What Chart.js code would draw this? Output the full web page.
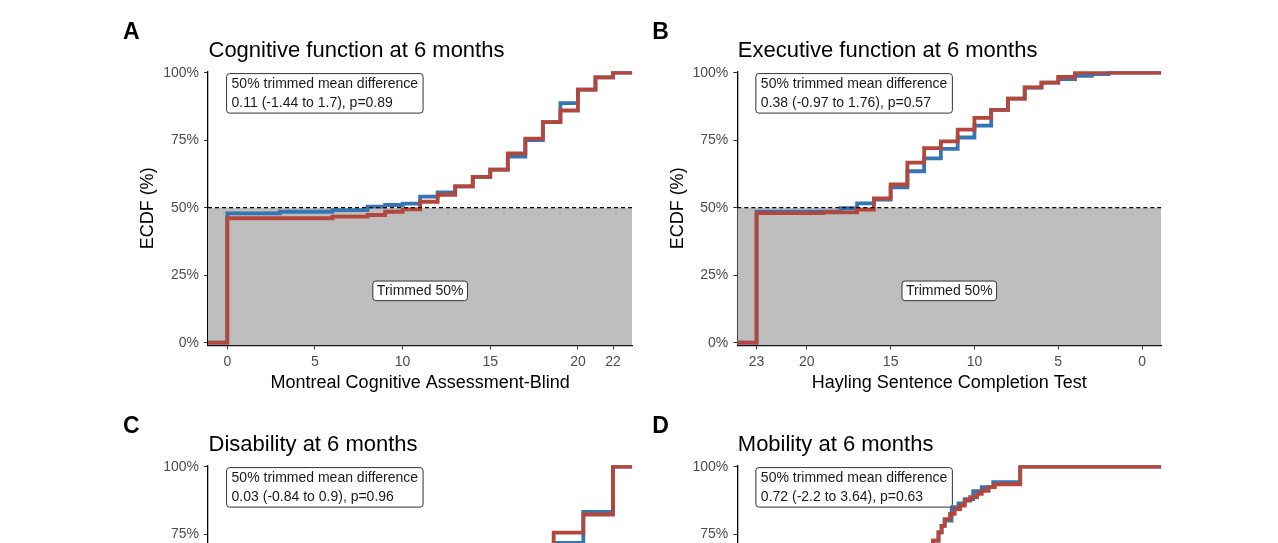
<!DOCTYPE html>
<html>
<head>
<meta charset="utf-8">
<script src="https://cdn.jsdelivr.net/npm/chart.js@4.4.1/dist/chart.umd.min.js"></script>
<style>
html, body { margin: 0; padding: 0; background: #fff; overflow: hidden; width: 1278px; height: 543px; }
canvas { position: absolute; }
</style>
</head>
<body>
<canvas id="cA" width="540" height="394" style="left:100px;top:0px"></canvas>
<canvas id="cB" width="540" height="394" style="left:629px;top:0px"></canvas>
<canvas id="cC" width="540" height="394" style="left:100px;top:394px"></canvas>
<canvas id="cD" width="540" height="394" style="left:629px;top:394px"></canvas>
<script>
// ECDF steps, % of patients at or below each score (blue / red arm)
const aBlueX = [0, 3, 6, 8, 9, 10, 11, 12, 13, 14, 15, 16, 17, 18, 19, 20, 21, 22];
const aBlueY = [47.9, 48.5, 49.1, 50.4, 51.0, 51.5, 54.1, 55.7, 57.9, 61.4, 64.1, 68.9, 75.0, 81.7, 88.7, 93.7, 98.3, 100];
const aRedX = [0, 6, 8, 9, 10, 11, 12, 13, 14, 15, 16, 17, 18, 19, 20, 21, 22];
const aRedY = [46.1, 46.7, 47.3, 48.5, 49.4, 52.2, 54.8, 57.9, 61.4, 64.1, 70.1, 75.6, 81.7, 86.0, 93.7, 98.3, 100];

// Hayling is plotted reversed (23 = worst)
const bBlueX = [23, 18, 17, 16, 15, 14, 13, 12, 11, 10, 9, 8, 7, 6, 5, 4, 3, 2];
const bBlueY = [48.5, 49.8, 51.6, 53.0, 57.5, 63.5, 68.3, 71.8, 76.0, 80.4, 86.2, 90.4, 94.5, 96.3, 97.6, 98.8, 99.5, 100];
const bRedX = [23, 19, 17, 16, 15, 14, 13, 12, 11, 10, 9, 8, 7, 6, 5, 4];
const bRedY = [48.0, 48.3, 49.3, 53.4, 58.6, 66.7, 72.1, 74.6, 78.9, 83.3, 86.2, 90.4, 94.6, 96.3, 98.4, 100];

const cBlueX = [0, 4, 8, 10, 11, 12, 13];
const cBlueY = [47, 50, 56, 63, 71.8, 83.3, 100];
const cRedX = [0, 4, 8, 10, 11, 12, 13];
const cRedY = [46, 49, 57, 65, 75.6, 82.3, 100];

const dBlueX = [0, 8, 15, 20, 22.9, 23.6, 24.0, 24.4, 25.3, 26.2, 27.0, 28.1, 29.2, 30.7, 34.2];
const dBlueY = [44, 52, 60, 67, 72.6, 75.7, 78.1, 80.0, 85.0, 86.4, 88.0, 90.9, 92.4, 94.3, 100];
const dRedX = [0, 8, 15, 20, 22.9, 23.6, 24.0, 24.4, 25.1, 25.7, 26.4, 27.0, 27.7, 28.6, 29.2, 30.1, 30.9, 34.2];
const dRedY = [43, 51, 59, 66, 72.6, 75.7, 78.1, 80.6, 82.5, 84.3, 85.6, 87.4, 88.7, 89.9, 91.1, 92.4, 93.5, 100];

const aTicks = [0, 5, 10, 15, 20, 22];
const bTicks = [23, 20, 15, 10, 5, 0];
const cTicks = [0, 5, 10];
const dTicks = [0, 10, 20, 30, 40, 50];
const yTicks = [0, 25, 50, 75, 100];

const panelLetters = ['A', 'B', 'C', 'D'];
const panelTitles = ['Cognitive function at 6 months', 'Executive function at 6 months', 'Disability at 6 months', 'Mobility at 6 months'];
const xTitles = ['Montreal Cognitive Assessment-Blind', 'Hayling Sentence Completion Test', '', ''];
const statLines = ['0.11 (-1.44 to 1.7), p=0.89', '0.38 (-0.97 to 1.76), p=0.57', '0.03 (-0.84 to 0.9), p=0.96', '0.72 (-2.2 to 3.64), p=0.63'];

const FONT = '"Liberation Sans", Arial, Helvetica, sans-serif';
const BLUE = '#3675B3';
const RED = '#B4463B';
Chart.defaults.font.family = FONT;

function labelBox(ctx, x, y, w, h) {
  const r = 3;
  ctx.beginPath();
  ctx.moveTo(x + r, y);
  ctx.arcTo(x + w, y, x + w, y + h, r);
  ctx.arcTo(x + w, y + h, x, y + h, r);
  ctx.arcTo(x, y + h, x, y, r);
  ctx.arcTo(x, y, x + w, y, r);
  ctx.closePath();
  ctx.fillStyle = '#fff';
  ctx.fill();
  ctx.strokeStyle = '#333';
  ctx.lineWidth = 1;
  ctx.stroke();
}

function decor(i, dataMin, dataMid) {
  return {
    id: 'decor' + i,
    afterDraw(chart) {
      const ctx = chart.ctx, area = chart.chartArea;
      const xs = chart.scales.x, ys = chart.scales.y;
      ctx.save();
      ctx.fillStyle = '#000';
      ctx.textAlign = 'left';
      ctx.textBaseline = 'alphabetic';
      ctx.font = 'bold 23px ' + FONT;
      ctx.fillText(panelLetters[i], area.left - 85, 38.5);
      ctx.font = '22px ' + FONT;
      ctx.fillText(panelTitles[i], area.left + 0.5, 57);

      ctx.font = '18px ' + FONT;
      ctx.textAlign = 'center';
      ctx.textBaseline = 'middle';
      ctx.fillText(xTitles[i], (area.left + area.right) / 2, area.bottom + 37.2);
      ctx.save();
      ctx.translate(area.left - 59.5, (area.top + area.bottom) / 2);
      ctx.rotate(-Math.PI / 2);
      ctx.fillText('ECDF (%)', 0, 0);
      ctx.restore();

      // trimmed mean difference label
      ctx.font = '14px ' + FONT;
      const l1 = '50% trimmed mean difference';
      const w = Math.max(ctx.measureText(l1).width, ctx.measureText(statLines[i]).width) + 10;
      const bx = xs.getPixelForValue(dataMin) - 0.7;
      const by = ys.getPixelForValue(100) + 0.9;
      labelBox(ctx, bx, by, w, 39.5);
      ctx.fillStyle = '#1a1a1a';
      ctx.textAlign = 'left';
      ctx.fillText(l1, bx + 5, by + 10.3);
      ctx.fillText(statLines[i], bx + 5, by + 29.6);

      // trimmed region label
      const t = 'Trimmed 50%';
      const tw = ctx.measureText(t).width + 8;
      const cx = xs.getPixelForValue(dataMid), cy = ys.getPixelForValue(19.2);
      labelBox(ctx, cx - tw / 2, cy - 9.8, tw, 19.6);
      ctx.fillStyle = '#1a1a1a';
      ctx.textAlign = 'center';
      ctx.fillText(t, cx, cy + 0.5);
      ctx.restore();
    }
  };
}

function makeChart(id, i, blueX, blueY, redX, redY, lo, hi, xTicks, reversed, yWidth) {
  const pad = 0.05 * (hi - lo);
  const xMin = lo - pad, xMax = hi + pad;
  const ecdf = (xs, ys) => {
    const pts = [{ x: reversed ? xMax : xMin, y: 0 }];
    xs.forEach((v, k) => pts.push({ x: v, y: ys[k] }));
    pts.push({ x: reversed ? xMin : xMax, y: ys[ys.length - 1] });
    return pts;
  };
  const half = [{ x: xMin, y: 50 }, { x: xMax, y: 50 }];
  return new Chart(document.getElementById(id), {
    type: 'line',
    data: {
      datasets: [
        { data: half, borderColor: '#000', borderWidth: 1.2, borderDash: [4, 3], fill: false, pointRadius: 0, order: 0 },
        { data: ecdf(redX, redY), borderColor: RED, borderWidth: 3.8, stepped: 'before', fill: false, pointRadius: 0, order: 1 },
        { data: ecdf(blueX, blueY), borderColor: BLUE, borderWidth: 3.8, stepped: 'before', fill: false, pointRadius: 0, order: 2 },
        { data: half, borderColor: 'rgba(0,0,0,0)', backgroundColor: '#bebebe', fill: 'start', pointRadius: 0, order: 3 }
      ]
    },
    options: {
      responsive: false,
      animation: false,
      layout: { padding: { left: 0, top: 71.35, right: 7.7, bottom: 0 } },
      plugins: { legend: { display: false }, tooltip: { enabled: false }, title: { display: false } },
      scales: {
        x: {
          type: 'linear', min: xMin, max: xMax, reverse: reversed,
          afterBuildTicks: s => { s.ticks = xTicks.map(v => ({ value: v })); },
          afterFit: s => { s.height = 48.6; },
          border: { display: true, color: '#000', width: 1.3 },
          grid: { drawOnChartArea: false, drawTicks: true, tickLength: 4, color: '#333', lineWidth: 1 },
          ticks: { color: '#4d4d4d', font: { size: 14 }, padding: 4.5, maxRotation: 0, autoSkip: false }
        },
        y: {
          type: 'linear', min: -1, max: 100.5,
          afterBuildTicks: s => { s.ticks = yTicks.map(v => ({ value: v })); },
          afterFit: s => { s.width = yWidth; },
          border: { display: true, color: '#000', width: 1.3 },
          grid: { drawOnChartArea: false, drawTicks: true, tickLength: 4, color: '#333', lineWidth: 1 },
          ticks: { color: '#4d4d4d', font: { size: 14 }, padding: 5, callback: v => v + '%' }
        }
      }
    },
    plugins: [decor(i, reversed ? hi : lo, (lo + hi) / 2)]
  });
}

makeChart('cA', 0, aBlueX, aBlueY, aRedX, aRedY, 0, 22, aTicks, false, 108);
makeChart('cB', 1, bBlueX, bBlueY, bRedX, bRedY, 0, 23, bTicks, true, 108.3);
makeChart('cC', 2, cBlueX, cBlueY, cRedX, cRedY, 0, 13, cTicks, false, 108);
makeChart('cD', 3, dBlueX, dBlueY, dRedX, dRedY, 0, 50, dTicks, false, 108.3);
</script>
</body>
</html>
